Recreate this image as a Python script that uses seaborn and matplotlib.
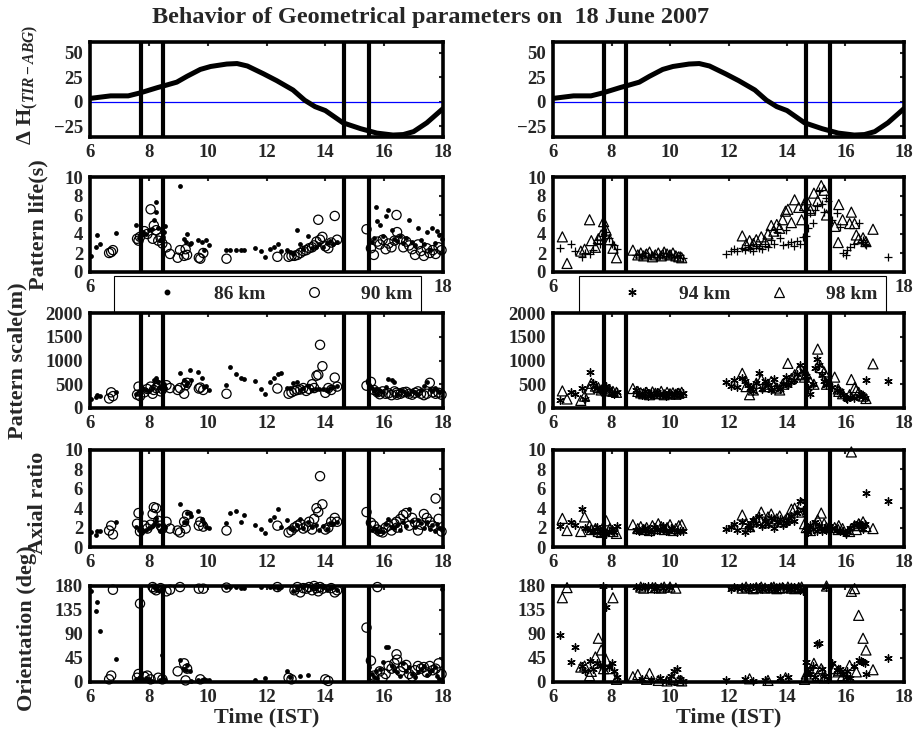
import matplotlib
matplotlib.use('Agg')
import matplotlib.pyplot as plt
from matplotlib.lines import Line2D
import seaborn as sns

# ---- data ----
hours = [6, 8, 10, 12, 14, 16, 18]
event_times = [7.73, 8.48, 14.65, 15.47]

dh_t = [6.0, 6.7, 7.3, 7.7, 8.3, 8.6, 8.95, 9.3, 9.75, 10.1, 10.65, 11.0, 11.35, 11.9,
        12.35, 12.9, 13.3, 13.65, 14.0, 14.6, 15.2, 15.75, 16.3, 16.65, 17.0, 17.45, 18.0]
dh = [3.4, 6.0, 6.0, 9.0, 14.5, 17, 20, 26, 33, 36, 38.5, 39, 36.5, 28.5,
      21.5, 12, 1.5, -5, -9, -21.5, -27.5, -32, -34, -33.5, -30.5, -21.5, -7]

# 86 km (dots)
t86 = [6.05, 6.2, 6.25, 6.35, 6.9,
       7.55, 7.65, 7.7, 7.8, 7.9, 8.0, 8.1, 8.17, 8.23, 8.26, 8.3, 8.38, 8.45, 8.5, 8.55,
       9.07, 9.2, 9.25, 9.31, 9.4, 9.45, 9.68, 9.8, 9.87, 9.93, 10.05,
       10.64, 10.75, 10.96, 11.12, 11.25, 11.6, 11.8, 11.95, 12.12, 12.25, 12.4, 12.5, 12.68,
       12.8, 12.9, 13.02, 13.13, 13.25, 13.42, 13.55, 13.68, 13.8, 13.93, 14.05, 14.15, 14.27, 14.4,
       15.5, 15.6, 15.65, 15.72, 15.77, 15.85, 15.95, 16.06, 16.14, 16.25, 16.35, 16.45, 16.55, 16.65,
       16.75, 16.85, 16.95, 17.05, 17.15, 17.25, 17.35, 17.46, 17.55, 17.64, 17.72, 17.78, 17.87, 17.95]
life86 = [1.7, 2.6, 3.9, 3.0, 4.1,
          4.9, 3.6, 3.9, 4.2, 4.0, 4.4, 4.5, 5.5, 6.3, 7.4, 4.6, 3.4, 3.6, 4.2, 4.8,
          9.1, 3.5, 3.2, 4.0, 3.0, 3.1, 3.4, 3.2, 2.3, 3.4, 2.8,
          2.3, 2.3, 2.3, 2.3, 2.3, 2.5, 2.2, 1.6, 2.4, 2.6, 2.9, 2.2, 2.3,
          2.1, 1.9, 4.4, 2.9, 2.4, 3.8, 2.5, 2.6, 2.9, 2.6, 3.1, 3.3, 3.0, 3.2,
          3.5, 3.2, 3.6, 6.8, 5.4, 5.0, 3.8, 5.9, 6.5, 4.4, 3.5, 3.3, 3.8, 3.1,
          3.6, 5.5, 3.2, 2.8, 4.6, 3.4, 2.9, 4.2, 2.3, 4.6, 3.1, 4.3, 3.9, 3.5]
scale86 = [180, 230, 270, 250, 330,
           300, 350, 280, 400, 370, 350, 420, 590, 640, 600, 540, 450, 400, 500, 430,
           740, 600, 480, 520, 790, 590, 760, 640, 450, 460, 370,
           490, 870, 710, 640, 610, 570, 390, 290, 540, 640, 710, 730, 430,
           420, 520, 540, 380, 420, 470, 380, 390, 400, 410, 380, 430, 450, 470,
           480, 420, 350, 400, 300, 360, 330, 450, 620, 580, 550, 300, 380, 350,
           320, 290, 360, 330, 300, 380, 460, 540, 400, 350, 420, 380, 330, 350]
axial86 = [1.5, 1.2, 1.7, 1.6, 2.6,
           2.1, 1.8, 1.9, 1.7, 1.8, 2.0, 2.2, 2.4, 2.95, 2.7, 2.3, 1.7, 1.9, 2.0, 2.1,
           4.4, 2.6, 2.6, 3.5, 3.5, 3.2, 3.7, 2.9, 2.5, 2.1, 2.0,
           2.5, 3.5, 3.7, 2.6, 3.3, 2.3, 1.9, 1.4, 2.8, 3.1, 3.9, 2.1, 2.8,
           2.0, 1.9, 2.3, 2.9, 2.0, 2.6, 2.1, 2.3, 1.8, 2.2, 1.9, 2.5, 2.4, 2.6,
           2.2, 1.8, 2.0, 1.9, 1.6, 1.7, 1.5, 2.4, 2.9, 2.1, 2.0, 2.3, 1.8, 2.6,
           2.2, 3.9, 2.7, 2.1, 2.8, 2.5, 2.0, 2.6, 1.9, 2.3, 1.6, 2.4, 2.0, 1.8]
orient86 = [170, 134, 150, 96, 44,
            5, 8, 10, 3, 7, 5, 2, 178, 176, 175, 172, 4, 50, 6, 3,
            42, 25, 22, 32, 20, 2, 4, 3, 5, 3, 3,
            178, 178, 178, 177, 176, 3, 178, 8, 178, 178, 176, 178, 20,
            10, 171, 176, 12, 178, 14, 178, 176, 180, 178, 173, 176, 178, 172,
            28, 15, 10, 20, 8, 25, 38, 66, 65, 30, 22, 18, 12, 35,
            20, 28, 15, 10, 18, 25, 30, 14, 20, 22, 28, 12, 5, 175]

# 90 km (open circles)
t90 = [6.65, 6.72, 6.78,
       7.6, 7.65, 7.7, 7.85, 7.95, 8.06, 8.13, 8.17, 8.25, 8.32, 8.4, 8.46, 8.6, 8.72,
       8.98, 9.06, 9.2, 9.25, 9.3, 9.7, 9.75, 9.85,
       10.64, 12.37,
       12.75, 12.85, 12.95, 13.05, 13.15, 13.25, 13.35, 13.45, 13.55, 13.62, 13.7, 13.76, 13.82,
       13.9, 14.0, 14.1, 14.2, 14.32, 14.4,
       15.4, 15.55, 15.65, 15.77, 15.85, 15.95, 16.05, 16.15, 16.25, 16.35, 16.42, 16.44, 16.55,
       16.65, 16.75, 16.85, 16.95, 17.05, 17.15, 17.25, 17.35, 17.45, 17.55, 17.65, 17.75, 17.85, 17.95]
life90 = [2.0, 2.1, 2.3,
          3.5, 3.3, 3.7, 4.3, 4.0, 6.6, 3.5, 4.9, 4.4, 3.3, 3.6, 3.0, 2.6, 1.9,
          1.5, 2.3, 1.7, 2.4, 1.8, 1.5, 1.4, 2.0,
          1.4, 1.6,
          1.6, 1.7, 1.7, 1.8, 2.0, 2.2, 2.3, 2.5, 2.6, 2.8, 3.2, 5.5, 3.4, 3.7, 2.7, 2.5, 3.1, 5.9, 3.4,
          4.5, 2.5, 1.8, 3.2, 2.9, 3.4, 2.4, 3.0, 2.6, 3.3, 6.0, 4.2, 3.5,
          2.6, 3.2, 2.8, 2.4, 1.8, 2.9, 2.2, 1.7, 2.5, 2.0, 2.3, 1.9, 2.6, 2.3]
scale90 = [200, 330, 250,
           280, 450, 250, 330, 400, 450, 300, 380, 420, 480, 350, 400, 480, 420,
           380, 420, 300, 480, 530, 410, 430, 380,
           300, 410,
           300, 330, 360, 380, 390, 420, 360, 400, 500, 420, 680, 700, 1330, 880, 320, 420, 380, 640, 450,
           470, 550, 380, 330, 290, 350, 300, 310, 270, 350, 320, 280, 300,
           330, 340, 300, 280, 320, 350, 300, 270, 300, 530, 330, 300, 320, 280]
axial90 = [1.7, 2.2, 1.3,
           2.4, 3.5, 1.6, 2.2, 1.9, 2.3, 3.4, 4.1, 4.0, 2.7, 2.2, 1.9, 2.6, 1.9,
           1.7, 1.5, 2.6, 1.9, 3.3, 2.2, 2.6, 2.1,
           1.7, 2.2,
           1.5, 1.7, 2.0, 2.2, 2.4, 1.9, 2.1, 2.6, 1.8, 2.9, 4.0, 3.6, 7.3, 4.4, 1.8, 2.0, 2.6, 3.0, 2.6,
           3.6, 2.5, 2.2, 1.8, 1.6, 1.5, 2.0, 2.2, 1.7, 2.4, 2.6, 2.0, 2.9,
           3.3, 3.5, 2.2, 3.0, 2.5, 1.7, 2.3, 3.4, 3.0, 2.6, 2.2, 5.0, 2.9, 1.6]
orient90 = [5, 12, 173,
            8, 15, 147, 10, 12, 5, 178, 175, 172, 8, 176, 5, 170, 173,
            20, 178, 35, 3, 25, 175, 5, 175,
            177, 178,
            8, 5, 172, 178, 168, 176, 175, 178, 172, 180, 176, 170, 178, 175, 5, 2, 176, 168, 172,
            102, 40, 12, 178, 20, 8, 15, 30, 25, 35, 52, 42, 20,
            28, 32, 15, 10, 22, 30, 25, 28, 18, 30, 22, 25, 35, 15]

# 94 km (plus / asterisk)
t94 = [6.23, 6.63, 6.75, 7.0, 7.1, 7.25, 7.37, 7.5, 7.6, 7.7, 7.8, 7.9, 8.0, 8.1, 8.2,
       8.85, 8.95, 9.05, 9.15, 9.25, 9.35, 9.45, 9.55, 9.65, 9.75, 9.85, 9.95, 10.05, 10.15,
       10.25, 10.35, 10.45,
       11.93, 12.1, 12.2, 12.3, 12.45, 12.55, 12.65, 12.75, 12.85, 12.95, 13.05, 13.15, 13.25,
       13.35, 13.45, 13.55, 13.65, 13.75, 13.85, 13.95, 14.05, 14.15, 14.25, 14.35, 14.45, 14.55,
       14.65, 14.72, 14.8, 14.88, 14.95, 15.02, 15.1, 15.18, 15.25, 15.32, 15.4,
       15.55, 15.7, 15.8, 15.9, 16.03, 16.06, 16.15, 16.3, 16.45, 16.54, 16.6, 16.65, 16.7, 17.45]
life94 = [2.5, 3.0, 2.2, 1.6, 2.0, 1.9, 2.3, 3.4, 3.0, 3.8, 4.2, 3.6, 3.0, 2.8, 2.4,
          1.8, 1.9, 1.7, 2.0, 1.6, 1.8, 1.9, 1.6, 1.8, 2.0, 1.7, 1.9, 1.8, 1.6, 1.7, 1.8, 1.5,
          1.9, 2.2, 2.4, 2.2, 2.5, 2.3, 2.6, 2.4, 2.2, 2.7, 2.5, 2.4, 3.0,
          2.6, 3.4, 2.9, 4.2, 3.6, 2.8, 4.4, 3.0, 3.2, 2.7, 3.3, 2.9, 3.7,
          3.8, 4.6, 6.2, 5.2, 6.5, 7.0, 8.5, 7.2, 6.3, 7.8, 7.5,
          5.5, 6.2, 4.7, 2.0, 1.8, 2.3, 2.6, 2.9, 5.2, 3.2, 3.4, 3.0, 2.8, 1.6]
scale94 = [170, 340, 300, 430, 200, 760, 530, 420, 380, 350, 470, 400, 320, 300, 330,
           380, 300, 280, 350, 260, 310, 280, 330, 300, 290, 260, 320, 300, 280, 330, 270, 310,
           540, 460, 600, 450, 630, 560, 480, 420, 350, 520, 740, 400, 560,
           480, 380, 620, 450, 400, 500, 650, 480, 550, 580, 720, 900, 780,
           680, 420, 300, 500, 850, 1030, 900, 700, 560, 480, 600,
           450, 380, 350, 280, 220, 200, 240, 220, 260, 300, 250, 210, 580, 560]
axial94 = [2.2, 2.6, 2.3, 3.9, 2.0, 1.8, 1.6, 2.1, 1.7, 1.4, 1.3, 1.6, 1.9, 1.5, 2.2,
           1.8, 1.6, 1.9, 2.0, 1.7, 1.5, 2.1, 1.8, 1.9, 2.2, 1.7, 1.6, 2.0, 1.8, 1.5, 1.7, 1.6,
           1.9, 2.1, 2.4, 1.8, 2.6, 1.5, 2.3, 2.0, 2.8, 2.5, 3.2, 2.2, 2.7,
           2.4, 3.0, 2.0, 2.6, 2.9, 2.3, 2.5, 2.8, 3.2, 2.7, 3.5, 4.7, 3.8,
           1.8, 1.5, 2.3, 1.9, 2.6, 1.7, 2.2, 1.6, 2.0, 1.8, 2.1,
           2.0, 1.8, 1.7, 1.6, 1.3, 1.5, 2.0, 2.3, 2.5, 2.2, 1.9, 2.4, 5.6, 4.7]
orient94 = [88, 37, 66, 30, 20, 40, 25, 35, 30, 180, 140, 28, 35, 20, 10,
            178, 176, 5, 178, 180, 3, 175, 177, 8, 176, 2, 179, 12, 20, 25, 5, 2,
            3, 175, 178, 176, 177, 5, 175, 178, 2, 176, 178, 175, 3,
            177, 178, 175, 176, 8, 178, 177, 10, 175, 178, 176, 173, 170,
            37, 20, 15, 30, 10, 71, 73, 25, 12, 178, 5,
            35, 22, 25, 15, 10, 20, 8, 30, 42, 40, 38, 36, 15, 45]

# 98 km (open triangles)
t98 = [6.32, 6.48, 6.95, 7.08, 7.25, 7.31, 7.45, 7.55, 7.65, 7.73, 7.82, 7.94, 8.05, 8.17,
       8.73, 8.9, 9.0, 9.1, 9.2, 9.3, 9.4, 9.5, 9.6, 9.7, 9.8, 9.9, 10.0, 10.1, 10.2, 10.3, 10.4,
       12.47, 12.6, 12.72, 12.85, 12.95, 13.12, 13.25, 13.35, 13.46, 13.55, 13.65, 13.75, 13.85,
       13.95, 14.03, 14.15, 14.26, 14.4, 14.5,
       14.6, 14.66, 14.8, 14.92, 15.05, 15.17, 15.27, 15.35,
       15.63, 15.75, 15.77, 15.9, 16.14, 16.2, 16.31, 16.37, 16.45, 16.6, 16.7, 16.94]
life98 = [3.7, 0.9, 2.2, 2.4, 5.5, 3.3, 2.6, 3.5, 3.9, 5.3, 4.4, 3.4, 2.5, 1.5,
          2.3, 1.8, 2.0, 1.7, 1.9, 2.1, 1.6, 1.8, 2.0, 1.7, 2.1, 1.9, 1.8, 2.0, 1.7, 1.6, 1.5,
          3.8, 2.9, 3.3, 3.0, 3.4, 3.7, 3.2, 4.0, 4.9, 4.3, 5.0, 4.6, 5.5, 6.4, 6.6, 5.2, 7.6, 6.8, 5.5,
          7.0, 7.6, 6.5, 8.3, 7.5, 9.1, 8.6, 6.0,
          4.8, 3.1, 7.1, 5.5, 5.1, 6.3, 5.1, 3.9, 3.5, 3.6, 3.2, 4.5]
scale98 = [360, 190, 160, 250, 400, 520, 460, 430, 380, 420, 360, 380, 350, 330,
           410, 350, 320, 300, 330, 280, 340, 310, 300, 350, 280, 330, 300, 320, 290, 310, 330,
           730, 450, 280, 380, 520, 600, 450, 500, 560, 470, 420, 380, 500, 550, 940, 620, 700, 800, 700,
           650, 720, 550, 500, 1240, 850, 760, 500,
           650, 400, 350, 300, 280, 600, 430, 380, 330, 250, 200, 930]
axial98 = [2.95, 1.7, 1.6, 3.1, 2.2, 1.8, 1.9, 1.6, 1.5, 1.8, 2.7, 1.9, 1.6, 1.4,
           2.3, 1.9, 2.1, 1.8, 2.0, 1.7, 2.2, 1.9, 2.4, 2.1, 1.8, 2.0, 2.3, 1.7, 1.9, 2.2, 2.3,
           3.3, 2.4, 2.1, 2.6, 2.8, 3.6, 2.5, 3.1, 3.4, 2.7, 2.9, 3.2, 2.6, 2.8, 3.0, 3.9, 4.0, 3.6, 4.5,
           2.4, 2.0, 1.7, 2.2, 2.8, 3.5, 2.4, 2.0,
           2.0, 1.8, 2.2, 1.9, 1.6, 9.8, 2.2, 1.8, 2.4, 2.6, 2.1, 1.9]
orient98 = [158, 177, 28, 30, 12, 20, 47, 82, 60, 25, 41, 25, 158, 5,
            10, 14, 178, 176, 5, 16, 177, 177, 3, 176, 178, 2, 178, 5, 176, 3, 2,
            176, 178, 6, 175, 177, 178, 176, 3, 177, 178, 175, 176, 177, 8, 178, 176, 175, 177, 178,
            5, 15, 20, 35, 12, 25, 8, 180,
            25, 19, 22, 12, 31, 170, 175, 19, 125, 82, 60, 23]

# ---- style ----
sns.set_style('white')
plt.rcParams['font.family'] = ['Liberation Serif', 'DejaVu Serif']
plt.rcParams['font.weight'] = 'bold'
plt.rcParams['axes.labelweight'] = 'bold'
plt.rcParams['mathtext.fontset'] = 'custom'
plt.rcParams['mathtext.rm'] = 'Liberation Serif'
plt.rcParams['mathtext.it'] = 'Liberation Serif:italic:bold'
plt.rcParams['mathtext.bf'] = 'Liberation Serif:bold'

W, H = 919, 740
fig = plt.figure(figsize=(W / 100, H / 100), dpi=100)
col_x = [90, 553]
col_w = [353, 351]
rows = [(42, 137), (177, 272), (313, 408), (450, 547), (586, 682)]
axes = [[fig.add_axes([col_x[c] / W, 1 - b / H, col_w[c] / W, (b - t) / H])
         for c in range(2)] for (t, b) in rows]


def style(ax, ylim, yticks):
    ax.set_xlim(6, 18)
    ax.set_xticks(hours)
    ax.set_ylim(*ylim)
    ax.set_yticks(yticks)
    for s in ax.spines.values():
        s.set_linewidth(2.6)
        s.set_color('k')
    ax.tick_params(direction='in', length=3, width=1.5, top=True, right=True,
                   labelsize=13.5, pad=5)
    for t in event_times:
        ax.axvline(t, color='k', lw=3, zorder=1)
    ax.set_xlabel('')
    ax.set_ylabel('')


def dots(ax, x, y):
    sns.scatterplot(x=x, y=y, ax=ax, marker='o', s=12, color='k', linewidth=0, clip_on=False)


def circles(ax, x, y):
    sns.scatterplot(x=x, y=y, ax=ax, marker='o', s=44, facecolor='none', edgecolor='k',
                    linewidth=0.9, clip_on=False)


def tris(ax, x, y):
    sns.scatterplot(x=x, y=y, ax=ax, marker='^', s=52, facecolor='none', edgecolor='k',
                    linewidth=0.9, clip_on=False)


def stars(ax, x, y):
    sns.scatterplot(x=x, y=y, ax=ax, marker=(6, 2, 0), s=28, color='k', linewidth=1.0, clip_on=False)


def pluses(ax, x, y):
    sns.scatterplot(x=x, y=y, ax=ax, marker='+', s=36, color='k', linewidth=0.9, clip_on=False)


# row 1: delta H
for ax in axes[0]:
    ax.axhline(0, color='b', lw=0.9, zorder=1)
    sns.lineplot(x=dh_t, y=dh, ax=ax, color='k', lw=3.6, zorder=3)
    style(ax, (-36, 61), [-25, 0, 25, 50])

# left column
dots(axes[1][0], t86, life86); circles(axes[1][0], t90, life90)
dots(axes[2][0], t86, scale86); circles(axes[2][0], t90, scale90)
dots(axes[3][0], t86, axial86); circles(axes[3][0], t90, axial90)
dots(axes[4][0], t86, orient86); circles(axes[4][0], t90, orient90)

# right column
pluses(axes[1][1], t94, life94); tris(axes[1][1], t98, life98)
stars(axes[2][1], t94, scale94); tris(axes[2][1], t98, scale98)
stars(axes[3][1], t94, axial94); tris(axes[3][1], t98, axial98)
stars(axes[4][1], t94, orient94); tris(axes[4][1], t98, orient98)

for c in range(2):
    style(axes[1][c], (0, 10), [0, 2, 4, 6, 8, 10])
    # middle hour labels are covered by the legend box anyway
    axes[1][c].set_xticklabels([str(hours[0])] + [''] * (len(hours) - 2) + [str(hours[-1])])
    style(axes[2][c], (0, 2000), [0, 500, 1000, 1500, 2000])
    style(axes[3][c], (0, 10), [0, 2, 4, 6, 8, 10])
    style(axes[4][c], (0, 180), [0, 45, 90, 135, 180])
    axes[4][c].set_xlabel('Time (IST)', fontsize=16, labelpad=1)

# y labels (left column only)
ylabels = [(r'$\Delta$ H$_{\mathit{(TIR-ABG)}}$', -0.142, 0.55),
           ('Pattern life(s)', -0.119, 0.5),
           ('Pattern scale(m)', -0.178, 0.5),
           ('Axial ratio', -0.119, 0.45),
           ('Orientation (deg)', -0.150, 0.56)]
for r, (lab, lx, ly) in enumerate(ylabels):
    axes[r][0].set_ylabel(lab, fontsize=16)
    axes[r][0].yaxis.set_label_coords(lx, ly)

# legends
h86 = Line2D([], [], marker='o', ms=3.2, color='k', ls='none')
h90 = Line2D([], [], marker='o', ms=7, mfc='none', mec='k', mew=0.9, ls='none')
h94 = Line2D([], [], marker=(6, 2, 0), ms=6, color='k', mew=1.0, ls='none')
h98 = Line2D([], [], marker='^', ms=7.5, mfc='none', mec='k', mew=0.9, ls='none')
for c, (hs, labs, x0, w) in enumerate([([h86, h90], ['86 km', '90 km'], 0.068, 0.870),
                                       ([h94, h98], ['94 km', '98 km'], 0.074, 0.875)]):
    leg = axes[1][c].legend(hs, labs, loc='center', bbox_to_anchor=(x0, -0.432, w, 0.4),
                            mode='expand', ncol=2, handlelength=4.6, handletextpad=0.1,
                            borderpad=0.45, borderaxespad=0, fontsize=14, frameon=True,
                            fancybox=False, edgecolor='k', framealpha=1)
    leg.get_frame().set_linewidth(0.8)
    leg.set_zorder(10)

fig.text(431 / W, 1 - 18 / H, 'Behavior of Geometrical parameters on  18 June 2007',
         ha='center', va='center', fontsize=17.5, fontweight='bold')

fig.savefig('out.png', dpi=100)
